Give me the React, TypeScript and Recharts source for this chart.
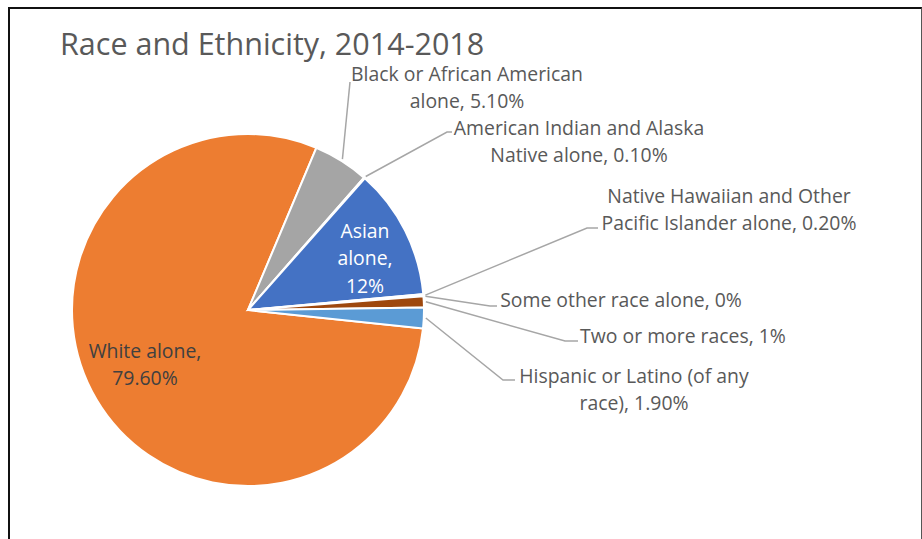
import React from 'react';
import { PieChart, Pie, Cell } from 'recharts';

const CATEGORIES = [
  'White alone',
  'Black or African American alone',
  'American Indian and Alaska Native alone',
  'Asian alone',
  'Native Hawaiian and Other Pacific Islander alone',
  'Some other race alone',
  'Two or more races',
  'Hispanic or Latino (of any race)',
];
const SHARES = [79.6, 5.1, 0.1, 12, 0.2, 0, 1, 1.9];
const LABEL_LINES = [
  ['White alone,', '79.60%'],
  ['Black or African American', 'alone, 5.10%'],
  ['American Indian and Alaska', 'Native alone, 0.10%'],
  ['Asian', 'alone,', '12%'],
  ['Native Hawaiian and Other', 'Pacific Islander alone, 0.20%'],
  ['Some other race alone, 0%'],
  ['Two or more races, 1%'],
  ['Hispanic or Latino (of any', 'race), 1.90%'],
];

const COLORS = ['#ED7D31', '#A5A5A5', '#FFC000', '#4472C4', '#70AD47', '#264478', '#9E480E', '#5B9BD5'];

// label placement relative to pie centre (Excel labels were dragged by hand)
const LABEL_LAYOUT: Array<{ tx: number; ty: number; color: string; elbow?: number[]; end?: number[] }> = [
  { tx: -103, ty: 40, color: '#404040' },
  { tx: 219, ty: -237, color: '#595959', elbow: [102, -228] },
  { tx: 331, ty: -183, color: '#595959', elbow: [199, -178], end: [204, -178] },
  { tx: 117, ty: -80, color: '#ffffff' },
  { tx: 481, ty: -115, color: '#595959', elbow: [339, -82], end: [350, -82] },
  { tx: 373, ty: -11, color: '#595959', elbow: [242, -4], end: [249, -4] },
  { tx: 435, ty: 25, color: '#595959', elbow: [317, 31], end: [330, 31] },
  { tx: 386, ty: 65, color: '#595959', elbow: [255, 70], end: [267, 70] },
];

const data = CATEGORIES.map((name, i) => ({ name, value: SHARES[i] }));

const FONT = '"Open Sans", "Noto Sans", sans-serif';
const LINE_H = 27.5;

const renderLabel = (props: any) => {
  const { cx, cy, midAngle, outerRadius, index } = props;
  const lay = LABEL_LAYOUT[index];
  const lines = LABEL_LINES[index];
  const RAD = Math.PI / 180;
  const sx = cx + (outerRadius + 2) * Math.cos(-midAngle * RAD);
  const sy = cy + (outerRadius + 2) * Math.sin(-midAngle * RAD);
  let pts = '';
  if (lay.elbow) {
    pts = `${sx},${sy} ${cx + lay.elbow[0]},${cy + lay.elbow[1]}`;
    if (lay.end) pts += ` ${cx + lay.end[0]},${cy + lay.end[1]}`;
  }
  return (
    <g key={`lbl-${index}`}>
      {pts && <polyline points={pts} fill="none" stroke="#A6A6A6" strokeWidth={1.5} />}
      {lines.map((l, i) => (
        <text
          key={i}
          x={cx + lay.tx}
          y={cy + lay.ty + i * LINE_H}
          textAnchor="middle"
          dominantBaseline="central"
          fill={lay.color}
          fontSize={19.4}
          fontFamily={FONT}
        >
          {l}
        </text>
      ))}
    </g>
  );
};

export default function App() {
  return (
    <div style={{ position: 'absolute', left: 0, top: 0, width: 922, height: 539, background: '#fff', overflow: 'hidden' }}>
      <div
        style={{
          position: 'absolute',
          left: 8,
          top: 7,
          width: 914,
          height: 600,
          boxSizing: 'border-box',
          borderTop: '2px solid #111',
          borderLeft: '2px solid #111',
          borderRight: '1px solid #555',
        }}
      />
      <div
        style={{
          position: 'absolute',
          left: 60,
          top: 22,
          fontFamily: FONT,
          fontSize: 30.5,
          color: '#595959',
          whiteSpace: 'nowrap',
        }}
      >
        Race and Ethnicity, 2014-2018
      </div>
      <div style={{ position: 'absolute', left: 0, top: 0 }}>
        <PieChart width={922} height={539}>
          <Pie
            data={data}
            dataKey="value"
            nameKey="name"
            cx={243}
            cy={305}
            outerRadius={176}
            startAngle={-6}
            endAngle={-366}
            stroke="#ffffff"
            strokeWidth={2}
            label={renderLabel}
            labelLine={false}
            isAnimationActive={false}
          >
            {data.map((entry, index) => (
              <Cell key={`cell-${index}`} fill={COLORS[index % COLORS.length]} />
            ))}
          </Pie>
        </PieChart>
      </div>
    </div>
  );
}
